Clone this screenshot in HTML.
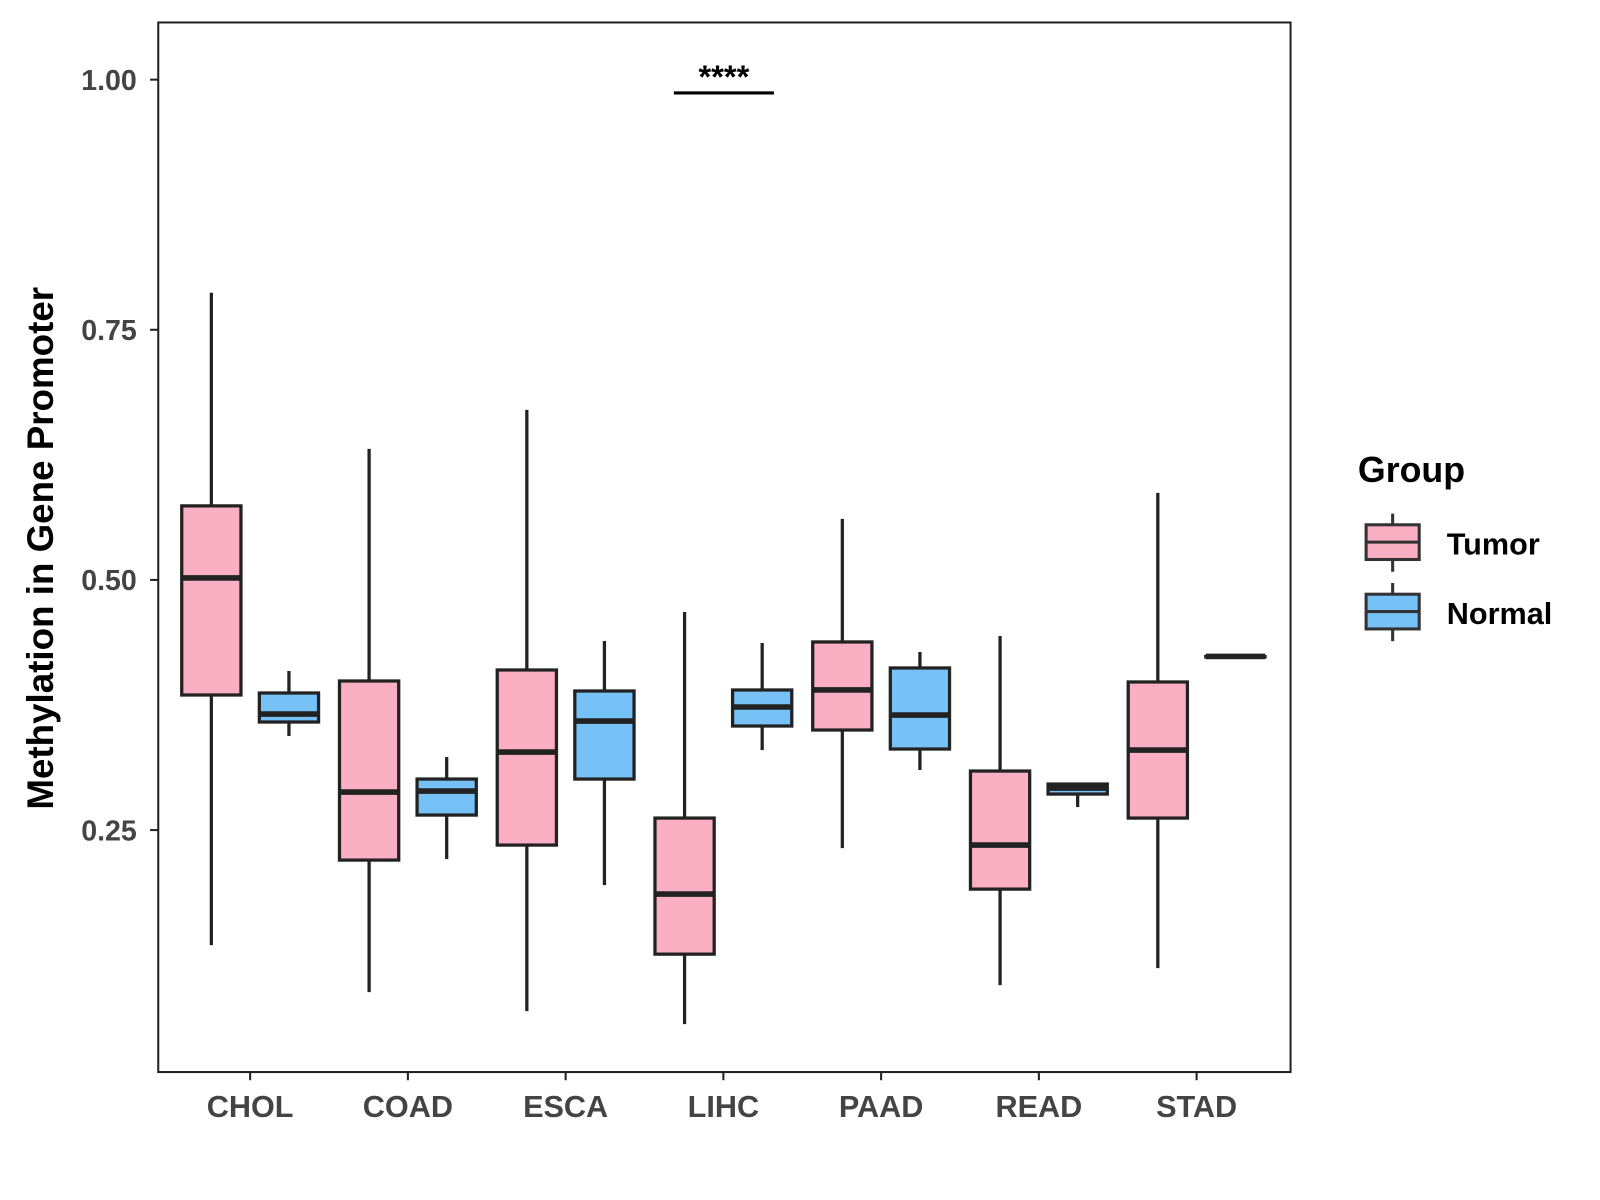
<!DOCTYPE html>
<html><head><meta charset="utf-8"><style>
body{margin:0;background:#fff;}
svg{display:block;font-family:"Liberation Sans",Arial,sans-serif;}
</style></head><body>
<svg id="chart" width="1600" height="1200">
<g transform="scale(1.021)">
<rect x="155" y="22" width="1109" height="1028" fill="#fff" stroke="#222" stroke-width="2"/>
<g id="yaxis"></g>
<g id="xaxis"></g>
<g id="boxes"></g>
<text transform="translate(52,537) rotate(-90)" text-anchor="middle" font-size="36" font-weight="bold" fill="#000">Methylation in Gene Promoter</text>
<line x1="660" y1="91" x2="758" y2="91" stroke="#000" stroke-width="3"/>
<text x="709" y="86" text-anchor="middle" font-size="32" font-weight="bold">****</text>
<g>
<text x="1330" y="472" font-size="35" font-weight="bold">Group</text>
<g>
<line x1="1364" y1="503" x2="1364" y2="560" stroke="#333" stroke-width="3"/>
<rect x="1338" y="514" width="52" height="34" fill="#FBAFC2" stroke="#333" stroke-width="3"/>
<line x1="1338" y1="531" x2="1390" y2="531" stroke="#333" stroke-width="3"/>
<text x="1417" y="543" font-size="30" font-weight="bold">Tumor</text></g>
<g>
<line x1="1364" y1="571" x2="1364" y2="628" stroke="#333" stroke-width="3"/>
<rect x="1338" y="582" width="52" height="34" fill="#76C2F7" stroke="#333" stroke-width="3"/>
<line x1="1338" y1="599" x2="1390" y2="599" stroke="#333" stroke-width="3"/>
<text x="1417" y="611" font-size="30" font-weight="bold">Normal</text></g>
</g>
</g>
</svg>
<script>
const categories=["CHOL","COAD","ESCA","LIHC","PAAD","READ","STAD"];
const tumorStats=[[0.135,0.385,0.502,0.574,0.787],[0.088,0.220,0.288,0.399,0.631],[0.069,0.235,0.328,0.410,0.670],[0.056,0.126,0.186,0.262,0.468],[0.232,0.350,0.390,0.438,0.561],[0.095,0.191,0.235,0.309,0.444],[0.112,0.262,0.330,0.398,0.587]];
const normalStats=[[0.344,0.358,0.366,0.387,0.409],[0.221,0.265,0.289,0.301,0.323],[0.195,0.301,0.359,0.389,0.439],[0.330,0.354,0.373,0.390,0.437],[0.310,0.331,0.365,0.412,0.428],[0.273,0.286,0.292,0.296,0.296],[0.4235,0.4235,0.4235,0.4235,0.4235]];
const yTicks=[0.25,0.50,0.75,1.00];
const yTickLabels=["0.25","0.50","0.75","1.00"];
const NS="http://www.w3.org/2000/svg";
const y=v=>1058-980*v;
const x=i=>245+i*154.5;
function mk(tag,attrs,parent){const e=document.createElementNS(NS,tag);for(const k in attrs)e.setAttribute(k,attrs[k]);parent.appendChild(e);return e;}
const ya=document.getElementById('yaxis'),xa=document.getElementById('xaxis'),bx=document.getElementById('boxes');
yTicks.forEach((t,i)=>{
 const l=mk('line',{x1:147,x2:155,y1:y(t),y2:y(t),stroke:'#222','stroke-width':2},ya);
 
 
 const tx=mk('text',{x:134,y:y(t)+10,'text-anchor':'end','font-size':28,'font-weight':'bold',fill:'#444'},ya);
 tx.textContent=yTickLabels[i];
 
 
});
categories.forEach((c,i)=>{
 const l=mk('line',{x1:x(i),x2:x(i),y1:1050,y2:1058,stroke:'#222','stroke-width':2},xa);
 
 
 const tx=mk('text',{x:x(i),y:1094,'text-anchor':'middle','font-size':30,'font-weight':'bold',fill:'#444'},xa);
 tx.textContent=c;
 
 
});
function box(s,cx,fill,name){
 const g=mk('g',{},bx);
 
 
 const w=58;
 mk('line',{x1:cx,x2:cx,y1:y(s[0]),y2:y(s[1]),stroke:'#222','stroke-width':3.2},g);
 mk('line',{x1:cx,x2:cx,y1:y(s[3]),y2:y(s[4]),stroke:'#222','stroke-width':3.2},g);
 mk('rect',{x:cx-w/2,y:y(s[3]),width:w,height:Math.max(0.5,y(s[1])-y(s[3])),fill:fill,stroke:'#222','stroke-width':3.2},g);
 mk('line',{x1:cx-w/2,x2:cx+w/2,y1:y(s[2]),y2:y(s[2]),stroke:'#222','stroke-width':5.5},g);
}
categories.forEach((c,i)=>{
 box(tumorStats[i],x(i)-38,'#FBAFC2','box-tumor-'+c.toLowerCase());
 box(normalStats[i],x(i)+38,'#76C2F7','box-normal-'+c.toLowerCase());
});
</script>
</body></html>
